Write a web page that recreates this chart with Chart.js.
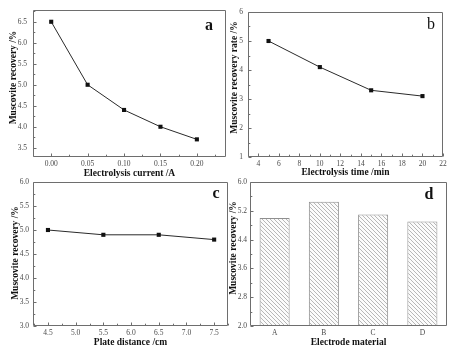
<!DOCTYPE html>
<html><head><meta charset="utf-8">
<script src="https://cdn.jsdelivr.net/npm/chart.js@4/dist/chart.umd.min.js"></script>
<style>
html,body{margin:0;padding:0;background:#fff;}
#wrap{position:relative;width:459px;height:354px;overflow:hidden;background:#fff;}
canvas{position:absolute;}
</style></head><body>
<div id="wrap">
<canvas id="ca" width="230" height="180" style="left:0px;top:0px"></canvas>
<canvas id="cb" width="230" height="180" style="left:229px;top:0px"></canvas>
<canvas id="cc" width="232" height="176" style="left:0px;top:178px"></canvas>
<canvas id="cd" width="230" height="176" style="left:229px;top:178px"></canvas>
</div>
<script>
// ---- data ----
const currentA = [0.00, 0.05, 0.10, 0.15, 0.20];
const recoveryA = [6.5, 5.0, 4.4, 4.0, 3.7];
const timeB = [5, 10, 15, 20];
const recoveryB = [5.0, 4.1, 3.3, 3.1];
const distanceC = [4.5, 5.5, 6.5, 7.5];
const recoveryC = [5.0, 4.9, 4.9, 4.8];
const materialD = ['A', 'B', 'C', 'D'];
const recoveryD = [5.0, 5.45, 5.1, 4.9];

const xTicksA = [0.00, 0.05, 0.10, 0.15, 0.20];
const yTicksA = [3.5, 4.0, 4.5, 5.0, 5.5, 6.0, 6.5];
const xTicksB = [4, 6, 8, 10, 12, 14, 16, 18, 20, 22];
const yTicksB = [1, 2, 3, 4, 5, 6];
const xTicksC = [4.5, 5.0, 5.5, 6.0, 6.5, 7.0, 7.5];
const yTicksC = [3.0, 3.5, 4.0, 4.5, 5.0, 5.5, 6.0];
const yTicksD = [2.0, 2.8, 3.6, 4.4, 5.2, 6.0];

// ---- helpers ----
const SERIF = '"Liberation Serif", "DejaVu Serif", serif';
const tickFont = {family: SERIF, size: 7.5, lineHeight: 1};
const titleFont = {family: SERIF, size: 9.5, weight: 'bold', lineHeight: 1};
const FRAME = '#6e6e6e';

function fixedTicks(arr) {
  return (scale) => { scale.ticks = arr.map(v => ({value: v})); };
}
function fmt(dec) { return (v) => Number(v).toFixed(dec); }

const framePlugin = {
  id: 'frame',
  afterDatasetsDraw(chart, args, o) {
    const {ctx, chartArea: ca} = chart;
    ctx.save();
    ctx.strokeStyle = FRAME;
    ctx.lineWidth = 1;
    ctx.beginPath();
    ctx.rect(Math.round(ca.left) + 0.5, Math.round(ca.top) + 0.5,
             Math.round(ca.right - ca.left) - 1, Math.round(ca.bottom - ca.top) - 1);
    ctx.stroke();
    // inward ticks on bottom and left axes
    const drawTicks = (scale, horizontal) => {
      if (scale.type !== 'linear') return;
      const vals = scale.ticks.map(t => t.value);
      const minors = [];
      for (let i = 0; i < vals.length - 1; i++) minors.push((vals[i] + vals[i + 1]) / 2);
      if (vals.length > 1) {
        const h = (vals[1] - vals[0]) / 2;
        const lo = vals[0] - h, hi = vals[vals.length - 1] + h;
        if (lo >= scale.min - 1e-9) minors.push(lo);
        if (hi <= scale.max + 1e-9) minors.push(hi);
      }
      const mark = (v, len) => {
        const p = Math.round(scale.getPixelForValue(v)) + 0.5;
        if (horizontal) {
          const y = Math.round(ca.bottom) - 0.5;
          ctx.moveTo(p, y); ctx.lineTo(p, y - len);
        } else {
          const x = Math.round(ca.left) + 0.5;
          ctx.moveTo(x, p); ctx.lineTo(x + len, p);
        }
      };
      ctx.beginPath();
      vals.forEach(v => mark(v, 3));
      minors.forEach(v => mark(v, 1.8));
      ctx.stroke();
    };
    drawTicks(chart.scales.x, true);
    drawTicks(chart.scales.y, false);
    ctx.restore();
  },
  afterDraw(chart, args, o) {
    const {ctx, chartArea: ca} = chart;
    ctx.save();
    // y axis title
    ctx.font = 'bold 9.5px ' + SERIF;
    ctx.fillStyle = '#111';
    ctx.textAlign = 'center';
    ctx.textBaseline = 'middle';
    ctx.translate(o.yTitleX, (ca.top + ca.bottom) / 2 + o.yTitleShift);
    ctx.rotate(-Math.PI / 2);
    ctx.fillText(o.yTitle, 0, 0);
    ctx.restore();
    // panel letter
    ctx.save();
    ctx.font = (o.letterBold ? 'bold ' : '') + '16px ' + SERIF;
    ctx.fillStyle = '#111';
    ctx.textAlign = 'center';
    ctx.textBaseline = 'middle';
    ctx.fillText(o.letter, ca.right - o.letterDx, ca.top + o.letterDy);
    ctx.restore();
  }
};

function axisX(cfg) {
  const ax = {
    type: cfg.type || 'linear',
    position: 'bottom',
    grid: {display: false, drawTicks: false},
    border: {display: false},
    ticks: {font: tickFont, color: '#4a4a4a', padding: cfg.labelPad, maxRotation: 0, autoSkip: false},
    title: {display: true, text: cfg.title, font: titleFont, color: '#111', padding: {top: 0, bottom: cfg.titlePad}},
    afterFit: (s) => { s.height = cfg.height; s.paddingLeft = 0; s.paddingRight = 0; }
  };
  if (cfg.type !== 'category') {
    ax.min = cfg.min; ax.max = cfg.max;
    ax.afterBuildTicks = fixedTicks(cfg.ticks);
    ax.ticks.callback = fmt(cfg.dec);
  } else {
    ax.offset = true;
  }
  return ax;
}
function axisY(cfg) {
  return {
    type: 'linear',
    position: 'left',
    min: cfg.min, max: cfg.max,
    afterBuildTicks: fixedTicks(cfg.ticks),
    grid: {display: false, drawTicks: false},
    border: {display: false},
    ticks: {font: tickFont, color: '#4a4a4a', padding: cfg.labelPad, callback: fmt(cfg.dec)},
    title: {display: false},
    afterFit: (s) => { s.width = cfg.width; s.paddingTop = 0; s.paddingBottom = 0; }
  };
}

function lineDataset(xs, ys) {
  return {
    data: xs.map((x, i) => ({x: x, y: ys[i]})),
    borderColor: '#2a2a2a',
    borderWidth: 1,
    pointStyle: 'rect',
    pointRadius: 2.9,
    pointBackgroundColor: '#111',
    pointBorderColor: '#111',
    pointBorderWidth: 0,
    tension: 0,
    fill: false
  };
}

function baseOptions(pad, frameOpts, scales) {
  return {
    responsive: false,
    animation: false,
    devicePixelRatio: 1,
    layout: {padding: pad},
    plugins: {legend: {display: false}, tooltip: {enabled: false}, frame: frameOpts},
    scales: scales
  };
}

// ---- panel a ----
new Chart(document.getElementById('ca'), {
  type: 'line',
  data: {datasets: [lineDataset(currentA, recoveryA)]},
  options: baseOptions({left: 0, top: 10, right: 1, bottom: 0},
    {yTitle: 'Muscovite recovery /%', yTitleX: 14, yTitleShift: -6, letter: 'a', letterBold: true, letterDx: 17, letterDy: 16},
    {
      x: axisX({min: -0.025, max: 0.240, ticks: xTicksA, dec: 2, title: 'Electrolysis current /A', height: 23, labelPad: 3.2, titlePad: 1.7}),
      y: axisY({min: 3.28, max: 6.78, ticks: yTicksA, dec: 1, width: 33, labelPad: 6})
    }),
  plugins: [framePlugin]
});

// ---- panel b ----
new Chart(document.getElementById('cb'), {
  type: 'line',
  data: {datasets: [lineDataset(timeB, recoveryB)]},
  options: baseOptions({left: 0, top: 12, right: 16, bottom: 0},
    {yTitle: 'Muscovite recovery rate /%', yTitleX: 5.5, yTitleShift: -7, letter: 'b', letterBold: false, letterDx: 12, letterDy: 13},
    {
      x: axisX({min: 3, max: 22, ticks: xTicksB, dec: 0, title: 'Electrolysis time /min', height: 23, labelPad: 3.2, titlePad: 2.5}),
      y: axisY({min: 1, max: 6, ticks: yTicksB, dec: 0, width: 19, labelPad: 5})
    }),
  plugins: [framePlugin]
});

// ---- panel c ----
new Chart(document.getElementById('cc'), {
  type: 'line',
  data: {datasets: [lineDataset(distanceC, recoveryC)]},
  options: baseOptions({left: 0, top: 3, right: 2, bottom: 0},
    {yTitle: 'Muscovite recovery /%', yTitleX: 16, yTitleShift: -1, letter: 'c', letterBold: true, letterDx: 12, letterDy: 12},
    {
      x: axisX({min: 4.23, max: 7.75, ticks: xTicksC, dec: 1, title: 'Plate distance /cm', height: 28, labelPad: 3.5, titlePad: 7}),
      y: axisY({min: 3.0, max: 6.0, ticks: yTicksC, dec: 1, width: 33, labelPad: 4})
    }),
  plugins: [framePlugin]
});

// ---- panel d ----
function hatchPattern() {
  const s = 4;
  const c = document.createElement('canvas');
  c.width = s; c.height = s;
  const g = c.getContext('2d');
  g.fillStyle = '#fbfbfb';
  g.fillRect(0, 0, s, s);
  g.strokeStyle = '#a6a6a6';
  g.lineWidth = 0.8;
  g.beginPath();
  for (const k of [-s, 0, s]) { g.moveTo(k, 0); g.lineTo(k + s, s); }
  g.stroke();
  return document.getElementById('cd').getContext('2d').createPattern(c, 'repeat');
}

new Chart(document.getElementById('cd'), {
  type: 'bar',
  data: {
    labels: materialD,
    datasets: [{
      data: recoveryD,
      backgroundColor: hatchPattern(),
      borderColor: '#8f8f8f',
      borderWidth: 1,
      barPercentage: 0.61,
      categoryPercentage: 1.0
    }]
  },
  options: baseOptions({left: 0, top: 4, right: 12, bottom: 0},
    {yTitle: 'Muscovite recovery /%', yTitleX: 5, yTitleShift: -6, letter: 'd', letterBold: true, letterDx: 18, letterDy: 13},
    {
      x: axisX({type: 'category', title: 'Electrode material', height: 28, labelPad: 3.5, titlePad: 7.2}),
      y: axisY({min: 2.0, max: 6.0, ticks: yTicksD, dec: 1, width: 21, labelPad: 3})
    }),
  plugins: [framePlugin]
});
</script>
</body></html>
